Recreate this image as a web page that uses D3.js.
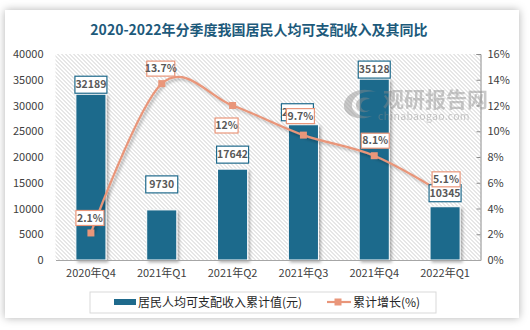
<html>
<head>
<meta charset="utf-8">
<title>income</title>
<script src="https://cdn.jsdelivr.net/npm/d3@7"></script>
<style>
body { margin:0; background:#fff; }
text { font-family: "Noto Sans CJK SC", "Noto Sans", sans-serif; }
</style>
</head>
<body>
<svg id="chart" width="530" height="330"></svg>
<script>
// data
var quarters = ["2020年Q4", "2021年Q1", "2021年Q2", "2021年Q3", "2021年Q4", "2022年Q1"];
var income = [32189, 9730, 17642, 26265, 35128, 10345];
var growth = [2.1, 13.7, 12, 9.7, 8.1, 5.1];
var leftTicks = [0, 5000, 10000, 15000, 20000, 25000, 30000, 35000, 40000];
var rightTicks = [0, 2, 4, 6, 8, 10, 12, 14, 16];

// label nudges (layout only)
var barLabelGap = [1, 17, 6, 4, 1, 5];
var barLabelDx = [0, 0, 0, -6, 0, 0];
var lineLabelOff = [[-1,-15],[-1,-15],[-6,20],[-3,-19],[1,-15],[1,-15]];

var barColor = "#1f6a8c", lineColor = "#e9967a", textColor = "#404040";

var svg = d3.select("#chart");
var defs = svg.append("defs");

var cardShadow = defs.append("filter").attr("id","cardShadow")
  .attr("x","-10%").attr("y","-10%").attr("width","120%").attr("height","120%");
cardShadow.append("feDropShadow").attr("dx",0).attr("dy",0).attr("stdDeviation",4)
  .attr("flood-color","#000").attr("flood-opacity",0.3);

var shadow = defs.append("filter").attr("id","shadow")
  .attr("x","-30%").attr("y","-30%").attr("width","160%").attr("height","160%");
shadow.append("feDropShadow").attr("dx",2).attr("dy",2).attr("stdDeviation",1.8)
  .attr("flood-color","#000").attr("flood-opacity",0.3);

// card
svg.append("rect").attr("x",5).attr("y",10).attr("width",514).attr("height",308)
  .attr("fill","#fff").attr("filter","url(#cardShadow)");

svg.append("text").attr("x",259).attr("y",35).attr("text-anchor","middle")
  .attr("font-size",14).attr("font-weight","bold").attr("fill","#1d5a7b")
  .text("2020-2022年分季度我国居民人均可支配收入及其同比");

var plotL = 55.5, plotR = 480.5, plotT = 54, plotB = 260;

var x = d3.scaleBand().domain(quarters).range([plotL, plotR]).paddingInner(0.575).paddingOuter(0.2875);
var y = d3.scaleLinear().domain([0, 40000]).range([plotB, plotT]);
var y2 = d3.scaleLinear().domain([0, 16]).range([plotB, plotT]);

// diagonal hatch in the plot area, clipped
defs.append("clipPath").attr("id","plotClip").append("rect")
  .attr("x",plotL).attr("y",plotT).attr("width",plotR-plotL).attr("height",plotB-plotT);
var ph = plotB - plotT;
svg.append("g").attr("clip-path","url(#plotClip)").selectAll("line")
  .data(d3.range(plotL - ph, plotR, 4)).enter().append("line")
  .attr("x1",function(d){return d;}).attr("y1",plotT)
  .attr("x2",function(d){return d + ph;}).attr("y2",plotB)
  .attr("stroke","#c8c8c8").attr("stroke-width",0.9);

// axes
var yAxis = svg.append("g").attr("transform","translate("+plotL+",0)")
  .call(d3.axisLeft(y).tickValues(leftTicks).tickSize(0).tickPadding(12).tickFormat(d3.format("d")));
yAxis.select(".domain").remove();
yAxis.selectAll("text").attr("font-size",11).attr("fill",textColor).attr("font-family","Liberation Sans, sans-serif");

var y2Axis = svg.append("g").attr("transform","translate("+plotR+",0)")
  .call(d3.axisRight(y2).tickValues(rightTicks).tickSize(-4).tickPadding(7).tickFormat(function(d){return d+"%";}));
y2Axis.select(".domain").attr("stroke","#8c8c8c");
y2Axis.selectAll(".tick line").attr("stroke","#8c8c8c");
y2Axis.selectAll("text").attr("font-size",11).attr("fill",textColor).attr("font-family","Liberation Sans, sans-serif");

// bars
svg.append("g").selectAll("rect").data(income).enter().append("rect")
  .attr("x",function(d,i){return x(quarters[i]);})
  .attr("width",x.bandwidth())
  .attr("y",function(d){return y(d);})
  .attr("height",function(d){return plotB - y(d);})
  .attr("fill",barColor).attr("stroke","#fff").attr("stroke-width",1)
  .attr("filter","url(#shadow)");

var xAxis = svg.append("g").attr("transform","translate(0,"+plotB+")")
  .call(d3.axisBottom(x).tickSize(0).tickPadding(9));
xAxis.select(".domain").attr("stroke","#a6a6a6");
xAxis.selectAll("text").attr("font-size",11).attr("fill",textColor);

// watermark
var wm = svg.append("g").attr("opacity",0.45).attr("fill","#8a8a8a");
wm.append("path").attr("d","M344,104 C346,92 362,86 376,92 C366,90 354,94 352,104 C351,112 360,118 372,116 C360,122 342,116 344,104 Z");
wm.append("path").attr("d","M356,104 C357,98 365,96 370,99 C364,99 361,102 361,106 C361,110 366,112 370,110 C364,115 355,111 356,104 Z");
wm.append("text").attr("x",383).attr("y",107).attr("font-size",21).attr("font-weight","bold").text("观研报告网");
wm.append("text").attr("x",378).attr("y",120).attr("font-size",10.5).attr("font-family","DejaVu Sans, sans-serif").attr("letter-spacing",0.3).text("chinabaogao.com");

// line
var cx = function(i){ return x(quarters[i]) + x.bandwidth()/2; };
var line = d3.line().x(function(d,i){return cx(i);}).y(function(d){return y2(d);})
  .curve(d3.curveCardinal.tension(0));
svg.append("path").datum(growth).attr("d",line).attr("fill","none")
  .attr("stroke",lineColor).attr("stroke-width",2.2).attr("filter","url(#shadow)");
svg.append("g").selectAll("rect").data(growth).enter().append("rect")
  .attr("x",function(d,i){return cx(i)-3.5;}).attr("y",function(d){return y2(d)-3.5;})
  .attr("width",7).attr("height",7).attr("fill",lineColor);

// labels
function labelBox(g, cxv, cyv, w, h, txt, border) {
  g.append("rect").attr("x",cxv-w/2).attr("y",cyv-h/2).attr("width",w).attr("height",h)
    .attr("fill","#fff").attr("stroke",border).attr("stroke-width",1.2);
  g.append("text").attr("x",cxv).attr("y",cyv+3.6).attr("text-anchor","middle")
    .attr("font-family","Liberation Sans, sans-serif")
    .attr("font-size",10.5).attr("font-weight","bold").attr("fill","#595959").text(txt);
}
var labels = svg.append("g");
income.forEach(function(d,i){
  labelBox(labels, cx(i) + barLabelDx[i], y(d) - barLabelGap[i] - 8.5, 32, 17, d, barColor);
});
growth.forEach(function(d,i){
  var t = d + "%";
  var w = t.length > 3 ? 28 : 23;
  labelBox(labels, cx(i)+lineLabelOff[i][0], y2(d)+lineLabelOff[i][1], w, 15, t, lineColor);
});

// legend
var lg = svg.append("g");
lg.append("rect").attr("x",90).attr("y",292).attr("width",346).attr("height",21)
  .attr("fill","#fff").attr("stroke","#d9d9d9");
lg.append("rect").attr("x",114).attr("y",299).attr("width",22).attr("height",6).attr("fill",barColor);
lg.append("text").attr("x",138).attr("y",307).attr("font-size",12).attr("fill","#262626").text("居民人均可支配收入累计值(元)");
lg.append("line").attr("x1",327).attr("x2",351).attr("y1",302).attr("y2",302).attr("stroke",lineColor).attr("stroke-width",2.2);
lg.append("rect").attr("x",334.5).attr("y",298.5).attr("width",7).attr("height",7).attr("fill",lineColor);
lg.append("text").attr("x",353).attr("y",307).attr("font-size",12).attr("fill","#262626").text("累计增长(%)");
</script>
</body>
</html>
